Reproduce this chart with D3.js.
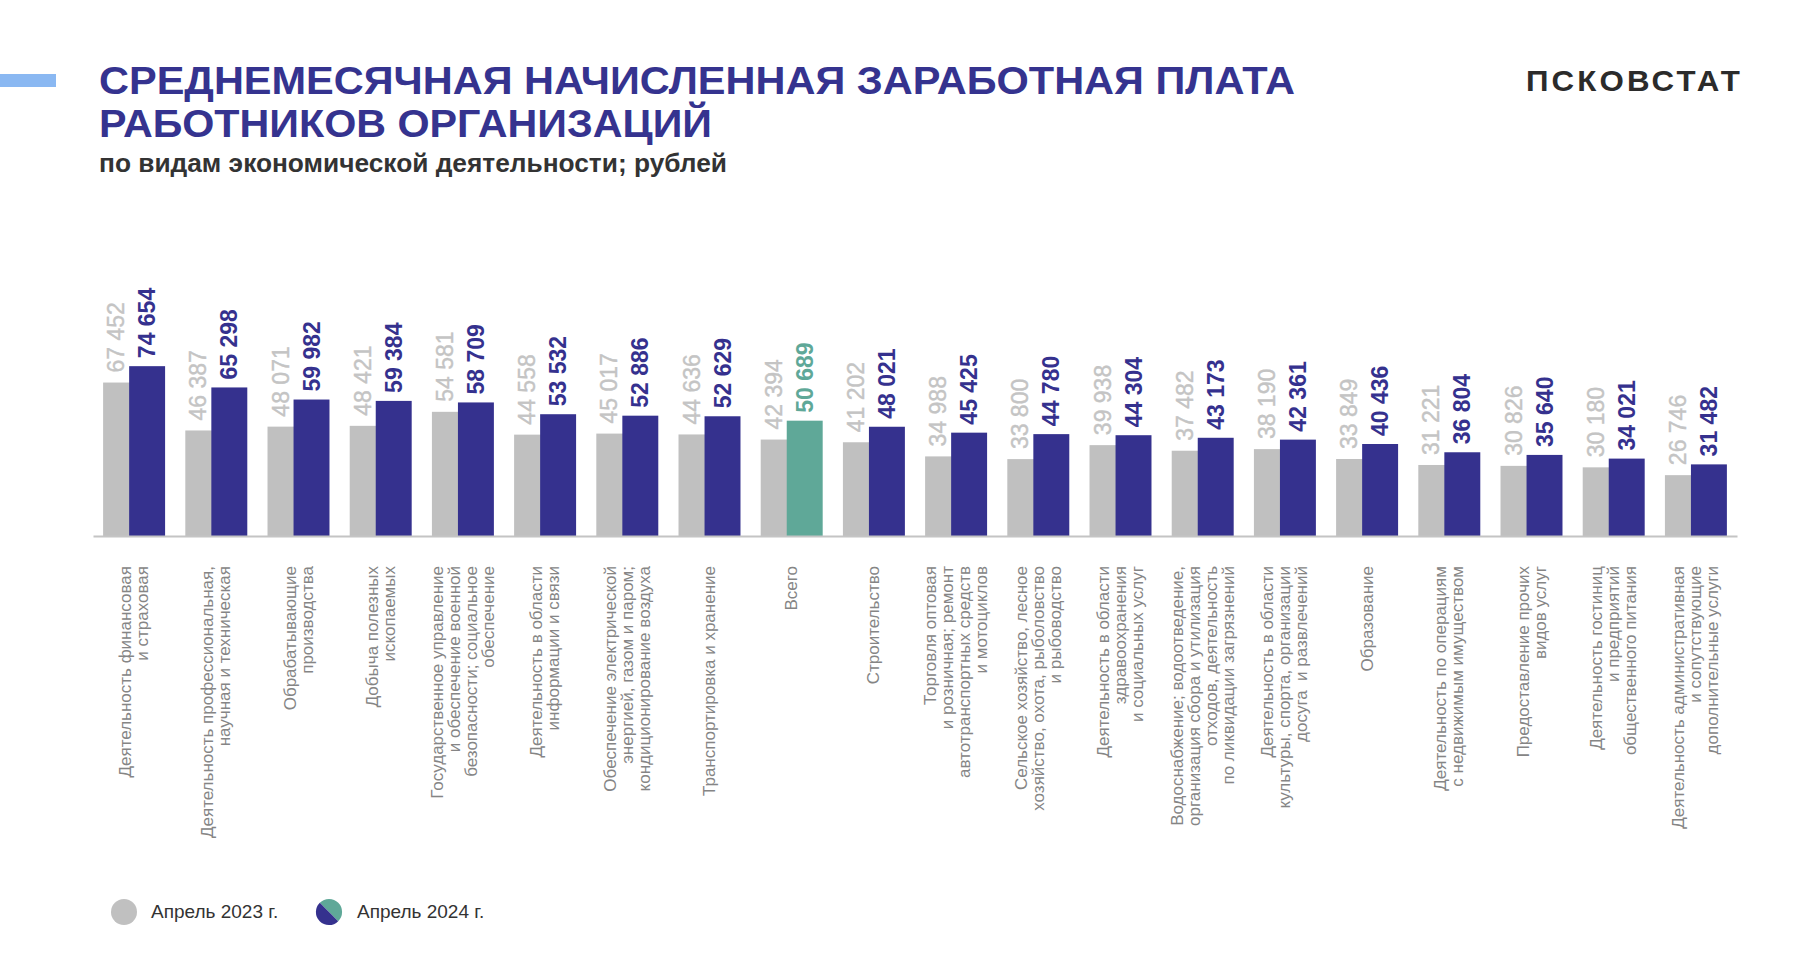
<!DOCTYPE html>
<html>
<head>
<meta charset="utf-8">
<script src="https://cdn.jsdelivr.net/npm/d3@7"></script>
<style>
  html, body { margin: 0; padding: 0; background: #ffffff; }
  svg { display: block; font-family: "Liberation Sans", Arial, Helvetica, sans-serif; }
</style>
</head>
<body>
<svg id="chart" width="1800" height="967"></svg>
<script>
// ---- data ----
const categories = [
  ["Деятельность финансовая", "и страховая"],
  ["Деятельность профессиональная,", "научная и техническая"],
  ["Обрабатывающие", "производства"],
  ["Добыча полезных", "ископаемых"],
  ["Государственное управление", "и обеспечение военной", "безопасности; социальное", "обеспечение"],
  ["Деятельность в области", "информации и связи"],
  ["Обеспечение электрической", "энергией, газом и паром;", "кондиционирование воздуха"],
  ["Транспортировка и хранение"],
  ["Всего"],
  ["Строительство"],
  ["Торговля оптовая", "и розничная; ремонт", "автотранспортных средств", "и мотоциклов"],
  ["Сельское хозяйство, лесное", "хозяйство, охота, рыболовство", "и рыбоводство"],
  ["Деятельность в области", "здравоохранения", "и социальных услуг"],
  ["Водоснабжение; водоотведение,", "организация сбора и утилизация", "отходов, деятельность", "по ликвидации загрязнений"],
  ["Деятельность в области", "культуры, спорта, организации", "досуга  и развлечений"],
  ["Образование"],
  ["Деятельность по операциям", "с недвижимым имуществом"],
  ["Предоставление прочих", "видов услуг"],
  ["Деятельность гостиниц", "и предприятий", "общественного питания"],
  ["Деятельность административная", "и сопутствующие", "дополнительные услуги"]
];
const values2023 = [67452, 46387, 48071, 48421, 54581, 44558, 45017, 44636, 42394, 41202, 34988, 33800, 39938, 37482, 38190, 33849, 31221, 30826, 30180, 26746];
const values2024 = [74654, 65298, 59982, 59384, 58709, 53532, 52886, 52629, 50689, 48021, 45425, 44780, 44304, 43173, 42361, 40436, 36804, 35640, 34021, 31482];
const totalIndex = 8; // "Всего"
const seriesNames = ["Апрель 2023 г.", "Апрель 2024 г."];
const titleLines = ["СРЕДНЕМЕСЯЧНАЯ НАЧИСЛЕННАЯ ЗАРАБОТНАЯ ПЛАТА", "РАБОТНИКОВ ОРГАНИЗАЦИЙ"];
const subtitle = "по видам экономической деятельности; рублей";
const brand = "ПСКОВСТАТ";

// ---- styles ----
const C_BLUE = "#35318e", C_TEAL = "#5fa898", C_GRAY = "#c0c0c0", C_GRAY_LBL = "#c4c4c4";
const C_TITLE = "#35338f", C_CAT = "#858585";

const svg = d3.select("#chart");
const idx = d3.range(categories.length);

const x = d3.scaleBand().domain(idx).range([93, 1737]).paddingInner(0.246).paddingOuter(0.123);
const y = d3.scaleLinear().domain([0, 80000]).range([536, 354]);
const bw = x.bandwidth();
const grayW = bw * 0.42, blueW = bw * 0.58;
const fmt = v => d3.format(",")(v).replace(/,/g, " ");

// header
svg.append("rect").attr("x", 0).attr("y", 74).attr("width", 56).attr("height", 13).attr("fill", "#8ab8f2");
svg.append("text").attr("x", 99).attr("y", 94).attr("font-size", 39).attr("font-weight", "bold")
  .attr("fill", C_TITLE).attr("textLength", 1196).attr("lengthAdjust", "spacingAndGlyphs").text(titleLines[0]);
svg.append("text").attr("x", 99).attr("y", 137).attr("font-size", 39).attr("font-weight", "bold")
  .attr("fill", C_TITLE).attr("textLength", 613).attr("lengthAdjust", "spacingAndGlyphs").text(titleLines[1]);
svg.append("text").attr("x", 99).attr("y", 172).attr("font-size", 25).attr("font-weight", "bold")
  .attr("fill", "#333333").attr("textLength", 628).attr("lengthAdjust", "spacingAndGlyphs").text(subtitle);
svg.append("text").attr("x", 1526).attr("y", 91).attr("font-size", 30).attr("font-weight", "bold")
  .attr("fill", "#2b2b2b").attr("textLength", 217).attr("lengthAdjust", "spacingAndGlyphs")
  .attr("letter-spacing", 3).text(brand);

// bars
const g = svg.append("g");
g.selectAll("rect.g23").data(idx).join("rect").attr("class", "g23")
  .attr("x", i => x(i)).attr("width", grayW + 2)
  .attr("y", i => y(values2023[i])).attr("height", i => y(0) - y(values2023[i]))
  .attr("fill", C_GRAY);
g.selectAll("rect.b24").data(idx).join("rect").attr("class", "b24")
  .attr("x", i => x(i) + grayW).attr("width", blueW)
  .attr("y", i => y(values2024[i])).attr("height", i => y(0) - y(values2024[i]))
  .attr("fill", i => i === totalIndex ? C_TEAL : C_BLUE);

// value labels
const gap = 8;
g.selectAll("text.l23").data(idx).join("text").attr("class", "l23")
  .attr("transform", i => `translate(${x(i) + grayW / 2},${y(values2023[i]) - gap - 2}) rotate(-90)`)
  .attr("dominant-baseline", "central").attr("font-size", 23).attr("fill", C_GRAY_LBL)
  .attr("stroke", C_GRAY_LBL).attr("stroke-width", 0.4)
  .text(i => fmt(values2023[i]));
g.selectAll("text.l24").data(idx).join("text").attr("class", "l24")
  .attr("transform", i => `translate(${x(i) + grayW + blueW / 2},${y(values2024[i]) - gap}) rotate(-90)`)
  .attr("dominant-baseline", "central").attr("font-size", 23).attr("font-weight", "bold")
  .attr("fill", i => i === totalIndex ? C_TEAL : C_BLUE)
  .text(i => fmt(values2024[i]));

// axis
const axis = svg.append("g").attr("transform", `translate(0,${y(0)})`)
  .call(d3.axisBottom(x).tickSize(0).tickSizeOuter(0).tickFormat(""));
axis.select(".domain").attr("stroke", "#c4c4c4").attr("stroke-width", 2);

// category labels
const lineH = 17;
const catG = svg.append("g");
idx.forEach(i => {
  const lines = categories[i];
  const cx = x(i) + bw / 2;
  lines.forEach((ln, k) => {
    const lx = cx + (k - (lines.length - 1) / 2) * lineH;
    catG.append("text")
      .attr("transform", `translate(${lx},566) rotate(-90)`)
      .attr("text-anchor", "end").attr("dominant-baseline", "central")
      .attr("font-size", 17).attr("fill", C_CAT)
      .attr("xml:space", "preserve")
      .text(ln);
  });
});

// legend
const leg = svg.append("g");
leg.append("circle").attr("cx", 124).attr("cy", 912).attr("r", 13).attr("fill", C_GRAY);
leg.append("text").attr("x", 151).attr("y", 918).attr("font-size", 19).attr("fill", "#333333").text(seriesNames[0]);
const arc = d3.arc().innerRadius(0).outerRadius(13);
const lc = leg.append("g").attr("transform", "translate(329,912)");
lc.append("path").attr("d", arc({startAngle: -Math.PI / 4, endAngle: 3 * Math.PI / 4})).attr("fill", C_TEAL);
lc.append("path").attr("d", arc({startAngle: 3 * Math.PI / 4, endAngle: 7 * Math.PI / 4})).attr("fill", C_BLUE);
leg.append("text").attr("x", 357).attr("y", 918).attr("font-size", 19).attr("fill", "#333333").text(seriesNames[1]);
</script>
</body>
</html>
